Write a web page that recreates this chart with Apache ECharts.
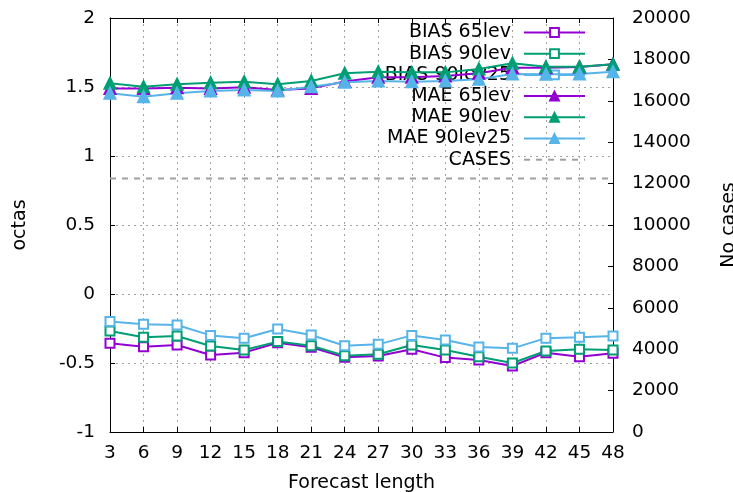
<!DOCTYPE html>
<html>
<head>
<meta charset="utf-8">
<script src="https://cdn.jsdelivr.net/npm/echarts@6/dist/echarts.min.js"></script>
<style>
html,body{margin:0;padding:0;background:#fff;overflow:hidden;width:100%;height:100%;}
#c{width:733px;height:492px;}
</style>
</head>
<body>
<div id="c"></div>
<script>
var forecastHours = [3,6,9,12,15,18,21,24,27,30,33,36,39,42,45,48];
var bias65 = [-0.357,-0.382,-0.370,-0.442,-0.425,-0.353,-0.386,-0.459,-0.449,-0.400,-0.461,-0.478,-0.522,-0.425,-0.454,-0.430];
var bias90 = [-0.268,-0.314,-0.304,-0.377,-0.406,-0.345,-0.375,-0.447,-0.437,-0.370,-0.406,-0.454,-0.500,-0.413,-0.400,-0.406];
var bias90l25 = [-0.199,-0.220,-0.225,-0.300,-0.320,-0.254,-0.297,-0.375,-0.365,-0.300,-0.333,-0.384,-0.394,-0.320,-0.314,-0.304];
var mae65 = [1.490,1.490,1.495,1.490,1.498,1.478,1.490,1.540,1.570,1.570,1.580,1.600,1.640,1.640,1.645,1.665];
var mae90 = [1.527,1.502,1.520,1.531,1.538,1.520,1.543,1.599,1.611,1.606,1.606,1.630,1.672,1.647,1.647,1.664];
var mae90l25 = [1.454,1.430,1.454,1.471,1.478,1.471,1.502,1.534,1.543,1.538,1.543,1.556,1.594,1.592,1.594,1.611];
var cases = [12250,12250,12250,12250,12250,12250,12250,12250,12250,12250,12250,12250,12250,12250,12250,12250];
var seriesNames = ['BIAS 65lev','BIAS 90lev','BIAS 90lev25','MAE 65lev','MAE 90lev','MAE 90lev25','CASES'];

function pairs(vals){ return forecastHours.map(function(h,i){ return [h, vals[i]]; }); }

var FONT = 'DejaVu Sans';
var TXT = '#000';
var PURPLE = '#9400D3', GREEN = '#009E73', BLUE = '#56B4E9', GRAY = '#a0a0a0';

function lineSeries(name, vals, color, sym, size){
  return {
    name: name, type: 'line', data: pairs(vals),
    xAxisIndex: 0, yAxisIndex: 0,
    symbol: sym, symbolSize: size,
    showAllSymbol: true,
    lineStyle: {color: color, width: 2},
    itemStyle: {color: color, borderColor: color, borderWidth: 2},
    emphasis: {disabled: true},
    animation: false, z: 3
  };
}

var legendData = seriesNames.map(function(n){
  if (n === 'CASES') return {name: n, itemStyle: {opacity: 0}};
  return {name: n};
});

var chart = echarts.init(document.getElementById('c'), null, {renderer: 'canvas', width: 733, height: 492});
var opt = {
  animation: false,
  backgroundColor: '#fff',
  textStyle: {fontFamily: FONT},
  grid: {left: 110, right: 120, top: 18, bottom: 60, containLabel: false, outerBoundsMode: 'none'},
  legend: {
    orient: 'vertical', align: 'right',
    right: 147, top: 23, padding: 0,
    itemWidth: 61, itemHeight: 11, itemGap: 2.2,
    data: legendData,
    textStyle: {fontFamily: FONT, fontSize: 19, color: TXT, lineHeight: 18, padding: [0, 8, 0, 0]},
    z: 1,
    selectedMode: false
  },
  xAxis: [{
    type: 'value', min: 3, max: 48, interval: 3, position: 'bottom',
    name: 'Forecast length', nameLocation: 'middle', nameGap: 42,
    nameTextStyle: {fontFamily: FONT, fontSize: 19, color: TXT},
    axisLine: {show: true, onZero: false, lineStyle: {color: '#000', width: 1}},
    axisTick: {show: true, inside: true, length: 5, lineStyle: {color: '#000'}},
    axisLabel: {fontFamily: FONT, fontSize: 18.5, color: TXT, margin: 12},
    splitLine: {show: true, lineStyle: {color: GRAY, type: [2, 4], width: 1}}
  },{
    type: 'value', min: 3, max: 48, interval: 3, position: 'top',
    axisLine: {show: true, onZero: false, lineStyle: {color: '#000', width: 1}},
    axisTick: {show: true, inside: true, length: 5, lineStyle: {color: '#000'}},
    axisLabel: {show: false},
    splitLine: {show: false}
  }],
  yAxis: [{
    type: 'value', min: -1, max: 2, interval: 0.5, position: 'left',
    name: 'octas', nameLocation: 'middle', nameGap: 80,
    nameTextStyle: {fontFamily: FONT, fontSize: 19, color: TXT},
    axisLine: {show: true, onZero: false, lineStyle: {color: '#000', width: 1}},
    axisTick: {show: true, inside: true, length: 5, lineStyle: {color: '#000'}},
    axisLabel: {fontFamily: FONT, fontSize: 18.5, color: TXT, margin: 15},
    splitLine: {show: true, lineStyle: {color: GRAY, type: [2, 4], width: 1}}
  },{
    type: 'value', min: 0, max: 20000, interval: 2000, position: 'right',
    name: 'No cases', nameLocation: 'middle', nameGap: 107,
    nameTextStyle: {fontFamily: FONT, fontSize: 19, color: TXT},
    axisLine: {show: true, onZero: false, lineStyle: {color: '#000', width: 1}},
    axisTick: {show: true, inside: true, length: 5, lineStyle: {color: '#000'}},
    axisLabel: {fontFamily: FONT, fontSize: 18.5, color: TXT, margin: 19,
      formatter: function(v){ return String(v); }},
    splitLine: {show: false}
  }],
  series: [
    lineSeries('BIAS 65lev', bias65, PURPLE, 'emptyRect', 9),
    lineSeries('BIAS 90lev', bias90, GREEN, 'emptyRect', 9),
    lineSeries('BIAS 90lev25', bias90l25, BLUE, 'emptyRect', 9),
    lineSeries('MAE 65lev', mae65, PURPLE, 'triangle', 11),
    lineSeries('MAE 90lev', mae90, GREEN, 'triangle', 11),
    lineSeries('MAE 90lev25', mae90l25, BLUE, 'triangle', 11),
    {
      name: 'CASES', type: 'line', data: pairs(cases),
      xAxisIndex: 0, yAxisIndex: 1,
      symbol: 'none',
      lineStyle: {color: GRAY, width: 2, type: [6, 6]},
      itemStyle: {color: GRAY},
      emphasis: {disabled: true},
      animation: false, z: 3
    }
  ]
};
chart.setOption(opt);
</script>
</body>
</html>
